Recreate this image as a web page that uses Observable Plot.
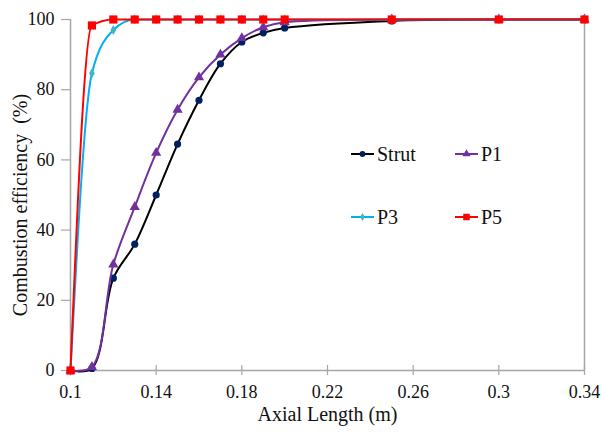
<!DOCTYPE html>
<html>
<head>
<meta charset="utf-8">
<script src="https://cdn.jsdelivr.net/npm/d3@7"></script>
<script src="https://cdn.jsdelivr.net/npm/@observablehq/plot@0.6"></script>
<style>
  body { margin: 0; background: #fff; font-family: "Liberation Serif", "DejaVu Serif", "Noto Serif", "Times New Roman", Times, serif; }
  #wrap { position: relative; width: 601px; height: 432px; }
  #legend { position: absolute; left: 0; top: 0; pointer-events: none; }
</style>
</head>
<body>
<div id="wrap"></div>
<script>
// ---- data ----
const seriesNames = ["Strut", "P1", "P3", "P5"];
const strutX = [0.1, 0.11, 0.12, 0.13, 0.14, 0.15, 0.16, 0.17, 0.18, 0.19, 0.2, 0.25, 0.3, 0.34];
const strutY = [0, 0.6, 26.3, 36, 50, 64.5, 77, 87.4, 93.6, 96.2, 97.6, 99.6, 100, 100];
const p1X = [0.1, 0.11, 0.12, 0.13, 0.14, 0.15, 0.16, 0.17, 0.18, 0.19, 0.2, 0.25, 0.3, 0.34];
const p1Y = [0, 1, 30.2, 46.6, 62, 74.3, 83.5, 90, 94.7, 97.8, 99.2, 100, 100, 100];
const p3X = [0.1, 0.11, 0.12, 0.13, 0.14, 0.15, 0.16, 0.17, 0.18, 0.19, 0.2, 0.25, 0.3, 0.34];
const p3Y = [0, 84.7, 97, 100, 100, 100, 100, 100, 100, 100, 100, 100, 100, 100];
const p5X = [0.1, 0.11, 0.12, 0.13, 0.14, 0.15, 0.16, 0.17, 0.18, 0.19, 0.2, 0.25, 0.3, 0.34];
const p5Y = [0, 98.3, 100, 100, 100, 100, 100, 100, 100, 100, 100, 100, 100, 100];
const xTicks = [0.1, 0.14, 0.18, 0.22, 0.26, 0.3, 0.34];
const yTicks = [0, 20, 40, 60, 80, 100];
const xTitle = "Axial Length (m)";
const yTitle = "Combustion efficiency\u00a0\u00a0(%)";

// ---- styles ----
const FONT = "\"Liberation Serif\", \"DejaVu Serif\", \"Noto Serif\", \"Times New Roman\", Times, serif";
const style = {
  Strut: {line: "#000000", marker: "#002060", symbol: "circle", r: 3.6, curve: "catmull-rom"},
  P1:    {line: "#7030A0", marker: "#7030A0", symbol: "triangle", r: 3.8, curve: "catmull-rom"},
  P3:    {line: "#00B0F0", marker: "#3fb6c8", symbol: "diamond", r: 3, curve: "monotone-x"},
  P5:    {line: "#FF0000", marker: "#FF0000", symbol: "square", r: 4.6, curve: "monotone-x"}
};
const axisGray = "#a6a6a6";

const xsArr = {Strut: strutX, P1: p1X, P3: p3X, P5: p5X};
const ysArr = {Strut: strutY, P1: p1Y, P3: p3Y, P5: p5Y};
const rows = {};
for (const s of seriesNames) rows[s] = xsArr[s].map((x, i) => ({series: s, x, y: ysArr[s][i]}));

const seriesMarks = [];
for (const s of seriesNames) {
  seriesMarks.push(Plot.line(rows[s], {x: "x", y: "y", stroke: style[s].line, strokeWidth: 2, curve: style[s].curve}));
  seriesMarks.push(Plot.dot(rows[s], {x: "x", y: "y", fill: style[s].marker, stroke: "none", symbol: style[s].symbol, r: style[s].r}));
}

const chart = Plot.plot({
  width: 601, height: 432,
  marginLeft: 70, marginRight: 17, marginTop: 19, marginBottom: 62,
  style: {fontFamily: FONT, fontSize: "18px", color: "#000", background: "#fff", overflow: "visible"},
  x: {domain: [0.1, 0.34]},
  y: {domain: [0, 100]},
  marks: [
    Plot.ruleX([0.1], {stroke: axisGray, strokeWidth: 1.5}),
    Plot.ruleX([0.34], {stroke: axisGray, strokeWidth: 1.5}),
    Plot.ruleY([0], {stroke: axisGray, strokeWidth: 1.5}),
    Plot.axisY({ticks: yTicks, tickSize: 9, tickPadding: 7, stroke: axisGray, strokeWidth: 1.2, fill: "#111", fontSize: 18, fontFamily: FONT, label: null}),
    Plot.axisX({ticks: xTicks, tickSize: 5, tickPadding: 10, stroke: axisGray, strokeWidth: 1.2, fill: "#111", fontSize: 18, fontFamily: FONT, tickFormat: d => String(d), label: null}),
    Plot.axisX({ticks: xTicks, tickSize: -5, stroke: axisGray, strokeWidth: 1.2, tickFormat: () => "", label: null}),
    Plot.text([xTitle], {frameAnchor: "bottom", dy: 50, fontSize: 20, fontFamily: FONT, fill: "#111", text: d => d}),
    Plot.text([yTitle], {frameAnchor: "left", dx: -50, dy: 10, rotate: -90, textAnchor: "middle", fontSize: 20, fontFamily: FONT, fill: "#111", text: d => d}),
    ...seriesMarks
  ]
});
document.getElementById("wrap").appendChild(chart);

// ---- legend (inside plot area) ----
const legendItems = [
  {name: "Strut", col: 0, row: 0},
  {name: "P1", col: 1, row: 0},
  {name: "P3", col: 0, row: 1},
  {name: "P5", col: 1, row: 1}
];
const lsvg = d3.select("#wrap").append("svg").attr("id", "legend").attr("width", 601).attr("height", 432);
const symMap = {circle: d3.symbolCircle, triangle: d3.symbolTriangle, diamond: d3.symbolDiamond, square: d3.symbolSquare};
for (const it of legendItems) {
  const x0 = 351 + it.col * 104, y0 = 154 + it.row * 63;
  const st = style[it.name];
  const g = lsvg.append("g").attr("transform", `translate(${x0},${y0})`);
  g.append("line").attr("x1", 0).attr("x2", 23).attr("y1", 0).attr("y2", 0).attr("stroke", st.line).attr("stroke-width", 2);
  g.append("path").attr("transform", "translate(11.5,0)")
    .attr("d", d3.symbol(symMap[st.symbol], Math.PI * (st.r * 0.8) ** 2)())
    .attr("fill", st.marker);
  g.append("text").attr("x", 26).attr("y", 0).attr("dy", "0.35em")
    .style("font-family", FONT).attr("font-size", 20).attr("fill", "#111")
    .text(it.name);
}
</script>
</body>
</html>
